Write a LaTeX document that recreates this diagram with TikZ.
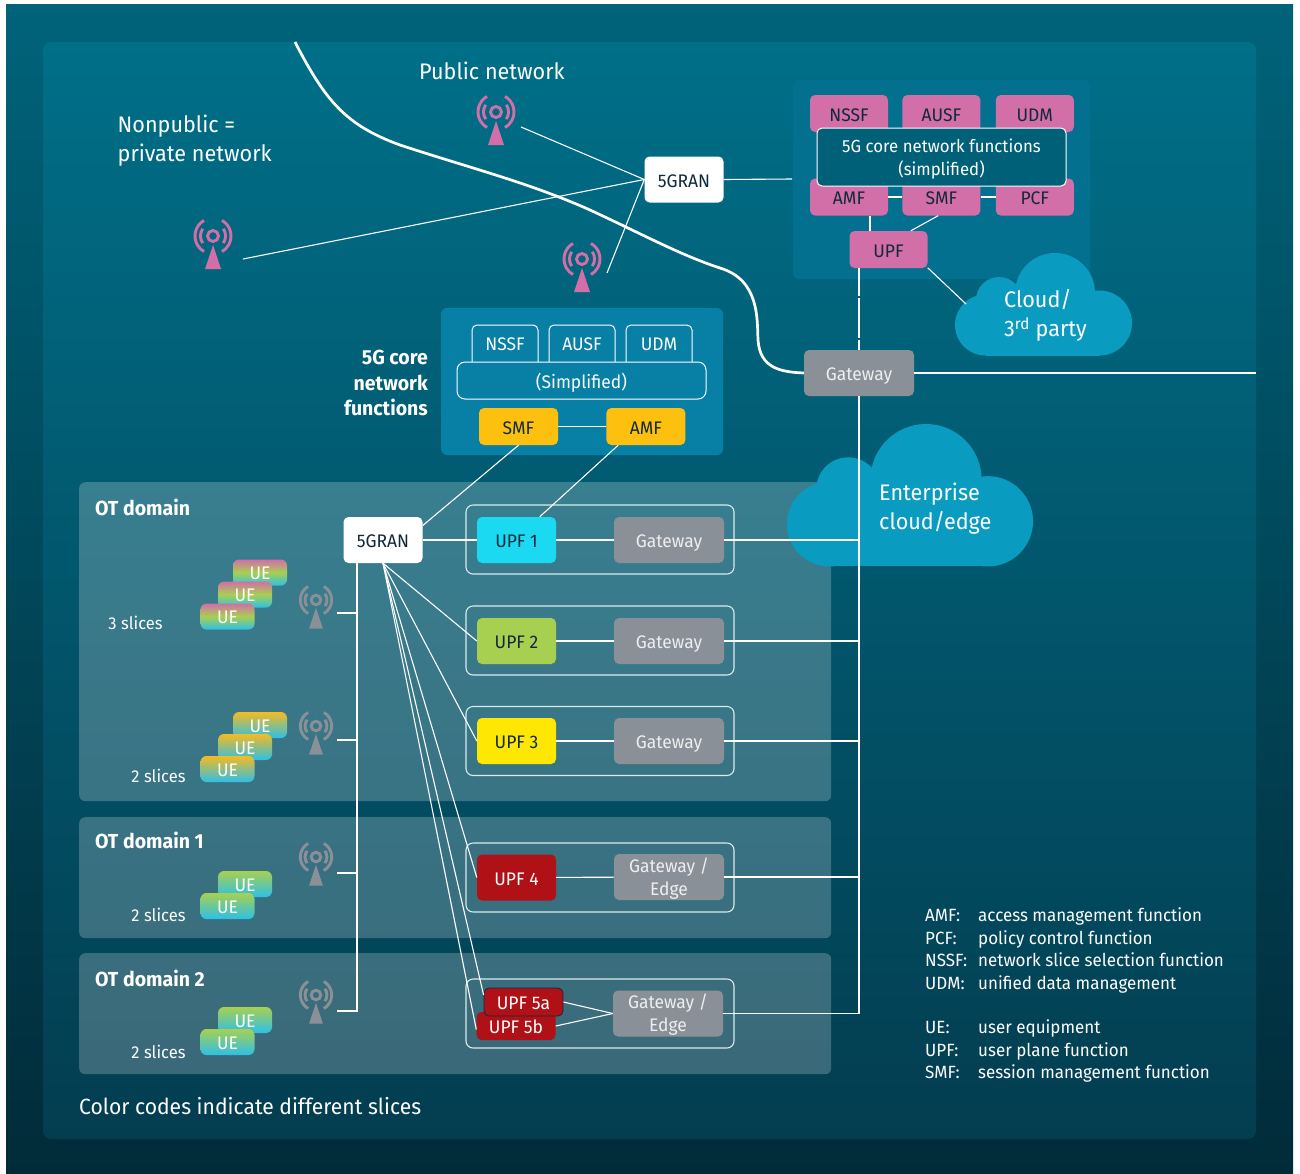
\documentclass[tikz,border=0pt]{standalone}
\usepackage{fontspec}
\setmainfont[FakeStretch=0.96]{Fira Sans}
\usetikzlibrary{positioning}

\definecolor{pinkfn}{HTML}{D26EA8}
\definecolor{amberfn}{HTML}{FDC00F}
\definecolor{grayfn}{HTML}{8A9097}
\definecolor{redfn}{HTML}{B01116}
\definecolor{inkfn}{HTML}{10293B}
\definecolor{cloudfn}{HTML}{0A9BC0}
\definecolor{sliceblue}{HTML}{2CC0E8}
\definecolor{slicegreen}{HTML}{A8D050}
\definecolor{sliceyellow}{HTML}{F5BB1F}
\definecolor{coretop}{HTML}{04708F}
\definecolor{coremid}{HTML}{0880A5}
\definecolor{coreover}{HTML}{006078}
\definecolor{outertop}{HTML}{00637A}
\definecolor{outerbot}{HTML}{012B39}
\definecolor{innertop}{HTML}{006F88}
\definecolor{innerbot}{HTML}{033D50}

\newcommand\lowerline{\rule{0pt}{17.5pt}}

\tikzset{
  fn/.style={rectangle,rounded corners=5pt,minimum width=79pt,minimum height=37pt,inner sep=0pt,
    text height=15pt,text depth=0pt,font=\fontsize{18.2}{21}\selectfont},
  pinkbox/.style={fn,minimum width=78pt,fill=pinkfn,text=inkfn},
  amberbox/.style={fn,fill=amberfn,text=inkfn},
  wirefn/.style={fn,draw=white,line width=1pt,text=white,fill=coremid},
  tabfn/.style={wirefn,minimum width=66pt,minimum height=44pt,text depth=8pt},
  ran/.style={fn,fill=white,text=inkfn,minimum height=46pt},
  upf/.style={fn,fill=#1,minimum height=46pt},
  gateway/.style={fn,fill=grayfn,text=white!85!grayfn,minimum width=110pt,minimum height=46pt},
  gatewayedge/.style={gateway,align=center,text height=,text depth=,font=\fontsize{18.2}{23}\selectfont},
  rowbox/.style={rectangle,rounded corners=7pt,draw=white!85!teal,line width=1.1pt,minimum width=268pt,minimum height=69pt},
  otpanel/.style={rectangle,rounded corners=6pt,minimum width=752pt,anchor=north west,inner sep=0pt,fill=white,fill opacity=.22},
  ue/.style={rectangle,rounded corners=6pt,minimum width=54pt,minimum height=26pt,inner sep=0pt,text=white,
    text height=14pt,text depth=0pt,font=\fontsize{18.2}{21}\selectfont},
  uethree/.style={ue,top color=pinkfn,bottom color=sliceblue,middle color=slicegreen},
  uetwo/.style={ue,top color=sliceyellow,bottom color=sliceblue},
  uegreen/.style={ue,top color=slicegreen,bottom color=sliceblue},
  big/.style={text=white,align=left,anchor=west,inner sep=0pt,font=\fontsize{22.5}{29}\selectfont},
  small/.style={text=white,inner sep=0pt,font=\fontsize{17.2}{20}\selectfont},
  head/.style={text=white,inner sep=0pt,anchor=west,font=\fontsize{20.3}{25.5}\selectfont\bfseries},
  wire/.style={draw=white,line width=1.1pt},
  pics/antenna/.style={code={
    \fill[#1] (0,9) -- (8,33) -- (-8,33) -- cycle;
    \draw[#1,line width=2.9pt] (0,0) circle (5.5);
    \draw[#1,line width=2.9pt] (10.3,-7.2) arc (-35:35:12.5);
    \draw[#1,line width=2.9pt] (-10.3,-7.2) arc (215:145:12.5);
    \draw[#1,line width=2.9pt] (9,-15.6) arc (-60:60:18);
    \draw[#1,line width=2.9pt] (-9,-15.6) arc (240:120:18);
  }},
  pics/cloudshape/.style={code={
    \fill[cloudfn] (144.5,70) circle (32.5) (100,40) circle (40) (44,47) circle (23) (30.5,72) circle (30.5);
    \fill[cloudfn] (30.5,50) rectangle (144.5,102.5);
  }}
}

\begin{document}
\begin{tikzpicture}[x=1pt,y=-1pt]
\useasboundingbox (0,0) rectangle (1300,1173);
\fill[white] (0,0) rectangle (1300,1173);
\shade[top color=outertop,bottom color=outerbot] (6,4) rectangle (1293,1173);
\shade[rounded corners=8pt,top color=innertop,bottom color=innerbot] (43,42) rectangle (1256,1139);

%network boundary
\coordinate (edgetop) at (295,42);
\coordinate (edgeright) at (1256,373);
\node[gateway] (gw0) at (859,373){Gateway};
\draw[white,line width=2.7pt] (edgetop) .. controls (325,100) and (345,125) .. (400,145)
  .. controls (470,168) and (530,183) .. (590,210)
  .. controls (640,233) and (680,255) .. (720,268)
  .. controls (760,280) and (757,320) .. (758,340)
  .. controls (760,368) and (780,372) .. (gw0.west);
\draw[white,line width=2.7pt] (gw0.east) -- (edgeright);

\fill[rounded corners=6pt,fill=coretop] (793,80) rectangle (1090,279);
\fill[rounded corners=6pt,fill=coremid] (441,308) rectangle (723,455);

\node[otpanel,minimum height=319pt] (ot0) at (79,482){};
\node[otpanel,minimum height=121pt] (ot1) at (79,817){};
\node[otpanel,minimum height=121pt] (ot2) at (79,953){};

%clouds
\pic at (955,253) {cloudshape};
\pic[scale=1.39] at (787,424) {cloudshape};

%public side
\pic at (496,112) {antenna=pinkfn};
\pic at (213,236) {antenna=pinkfn};
\pic at (582,259) {antenna=pinkfn};
\coordinate (pubend) at (521,127);
\coordinate (leftend) at (243,259);
\coordinate (midend) at (607,273);
\coordinate (coreedge) at (792,179);
\coordinate (cloudend) at (966,304);
\node[ran] (ran0) at (684,179.5){5GRAN};
\path (pubend) edge[wire] (ran0.west);
\path (leftend) edge[wire] (ran0.west);
\path (midend) edge[wire] (ran0.west);
\path (ran0.east) edge[wire] (coreedge);

%core, top right
\node[pinkbox] (nssfa) at (849,113.5){NSSF};
\node[pinkbox,right=14pt of nssfa] (ausfa){AUSF};
\node[pinkbox,right=15pt of ausfa] (udma){UDM};
\node[pinkbox] (amfa) at (849,197){AMF};
\node[pinkbox,right=14pt of amfa] (smfa){SMF};
\node[pinkbox,right=15pt of smfa] (pcfa){PCF};
\node[pinkbox] (upfa) at (888.5,249.5){UPF};
\path (amfa) edge[wire] (smfa);
\path (smfa) edge[wire] (pcfa);
\path (amfa.south -| 870,0) edge[wire] (upfa.north -| 870,0);
\path (smfa.-100) edge[wire] (upfa.40);
\path (upfa.-25) edge[wire] (cloudend);
\node[wirefn,fill=coreover,minimum width=249pt,minimum height=58pt,align=center,text height=,text depth=,
  font=\fontsize{17.5}{23}\selectfont] (corea) at (941.5,157){\lowerline 5G core network functions\\(simplified)};

%core, middle
\node[tabfn] (nssfb) at (505,347){NSSF};
\node[tabfn,right=10pt of nssfb] (ausfb){AUSF};
\node[tabfn,right=10pt of ausfb] (udmb){UDM};
\fill[fill=coremid] (465,362) rectangle (700,372);
\node[wirefn,minimum width=249pt,rounded corners=8pt] (simp) at (581.5,380.5){(Simplified)};
\node[amberbox] (smfb) at (518.5,426.5){SMF};
\node[amberbox,right=48pt of smfb] (amfb){AMF};
\path (smfb) edge[wire] (amfb);
\node[head,anchor=east,align=right] (corelabel) at (428,383){5G core\\network\\functions};

%rows
\node[ran] (ran1) at (383,540){5GRAN};
\node[rowbox] (row1) at (600,539.5){};
\node[rowbox] (row2) at (600,640.5){};
\node[rowbox] (row3) at (600,741){};
\node[rowbox] (row4) at (600,877.5){};
\node[rowbox] (row5) at (600,1013.5){};
\node[gateway] (gw1) at (669,540){Gateway};
\node[gateway] (gw2) at (669,641){Gateway};
\node[gateway] (gw3) at (669,741){Gateway};
\node[gatewayedge] (gw4) at (669,877){\lowerline Gateway /\\Edge};
\node[gatewayedge] (gw5) at (668,1013.5){\lowerline Gateway /\\Edge};
\node[upf=sliceblue!60!cyan,text=inkfn] (upf1) at (516.5,540){UPF 1};
\node[upf=slicegreen,text=inkfn] (upf2) at (516.5,641){UPF 2};
\node[upf=yellow!90!orange,text=inkfn] (upf3) at (516.5,741){UPF 3};
\node[upf=redfn,text=white] (upf4) at (516.5,877.5){UPF 4};
\node[upf=redfn,text=white,minimum height=28pt] (upf5b) at (516,1026){UPF 5b};
\node[upf=redfn,text=white,minimum height=28pt,draw=inkfn,line width=.8pt] (upf5a) at (523.5,1002){UPF 5a};

\path (smfb.south) edge[wire] (ran1.20);
\path (amfb.214) edge[wire] (upf1.45);
\path (ran1) edge[wire] (upf1);
\path (upf1) edge[wire] (gw1);
\path (upf2) edge[wire] (gw2);
\path (upf3) edge[wire] (gw3);
\path (upf4) edge[wire] (gw4);
\path (upf5a.east) edge[wire] (gw5.west);
\path (upf5b.east) edge[wire] (gw5.west);
%fan
\path (ran1.south) edge[wire] (upf2.west);
\path (ran1.south) edge[wire] (upf3.west);
\path (ran1.south) edge[wire] (upf4.west);
\path (ran1.south) edge[wire] (upf5a.170);
\path (ran1.south) edge[wire] (upf5b.185);

%bus to the gateways
\path[wire,dash pattern=on 28pt off 2pt on 40pt off 2pt on 10pt] (upfa.south -| gw0) -- (gw0.north);
\path[wire] (gw0.south) |- (gw5.east);
\path (gw1.east) edge[wire] (gw1.east -| gw0);
\path (gw2.east) edge[wire] (gw2.east -| gw0);
\path (gw3.east) edge[wire] (gw3.east -| gw0);
\path (gw4.east) edge[wire] (gw4.east -| gw0);

%radio side
\pic at (316,600) {antenna={grayfn,scale=.87}};
\pic at (316,726) {antenna={grayfn,scale=.87}};
\pic at (316,857) {antenna={grayfn,scale=.87}};
\pic at (316,995) {antenna={grayfn,scale=.87}};
\coordinate (busa) at (337,613);
\coordinate (busb) at (337,740);
\coordinate (busc) at (337,873);
\coordinate (busd) at (337,1011);
\coordinate (bustop) at (357,563);
\path[wire] (bustop) |- (busd);
\path (busa) edge[wire] (busa -| bustop);
\path (busb) edge[wire] (busb -| bustop);
\path (busc) edge[wire] (busc -| bustop);

\node[uethree] (ue1) at (260,572.5){UE};
\node[uethree] (ue2) at (245,594.5){UE};
\node[uethree] (ue3) at (227.5,616.5){UE};
\node[uetwo] (ue4) at (260,725){UE};
\node[uetwo] (ue5) at (245,747){UE};
\node[uetwo] (ue6) at (227.5,769){UE};
\node[uegreen] (ue7) at (245,884){UE};
\node[uegreen] (ue8) at (227.5,906){UE};
\node[uegreen] (ue9) at (245,1020){UE};
\node[uegreen] (ue10) at (227.5,1042){UE};

%labels
\node[big,anchor=north west] (pubtext) at (419,62){Public network};
\node[big,anchor=north west] (privtext) at (117.5,114.5){Nonpublic =\\private network};
\node[big] (cloudtext) at (1004,315.5){Cloud/\\3\textsuperscript{rd} party};
\node[big] (enttext) at (879,508.5){Enterprise\\cloud/edge};
\node[big,font=\fontsize{22}{29}\selectfont] (colortext) at (79,1106){Color codes indicate different slices};
\node[head] (otname) at (95,507){OT domain};
\node[head] (otnamea) at (95,840){OT domain 1};
\node[head] (otnameb) at (95,978){OT domain 2};
\node[small] (slices1) at (135.5,623){3 slices};
\node[small] (slices2) at (158.5,776){2 slices};
\node[small] (slices3) at (158.5,915){2 slices};
\node[small] (slices4) at (158.5,1052){2 slices};
\node[small,anchor=north west,font=\fontsize{17.7}{22.4}\selectfont] (legend) at (925,906){%
\begin{tabular}{@{}p{53pt}@{}l@{}}
AMF: & access management function\\
PCF: & policy control function\\
NSSF: & network slice selection function\\
UDM: & unified data management\\
\\
UE: & user equipment\\
UPF: & user plane function\\
SMF: & session management function
\end{tabular}};
\end{tikzpicture}
\end{document}
